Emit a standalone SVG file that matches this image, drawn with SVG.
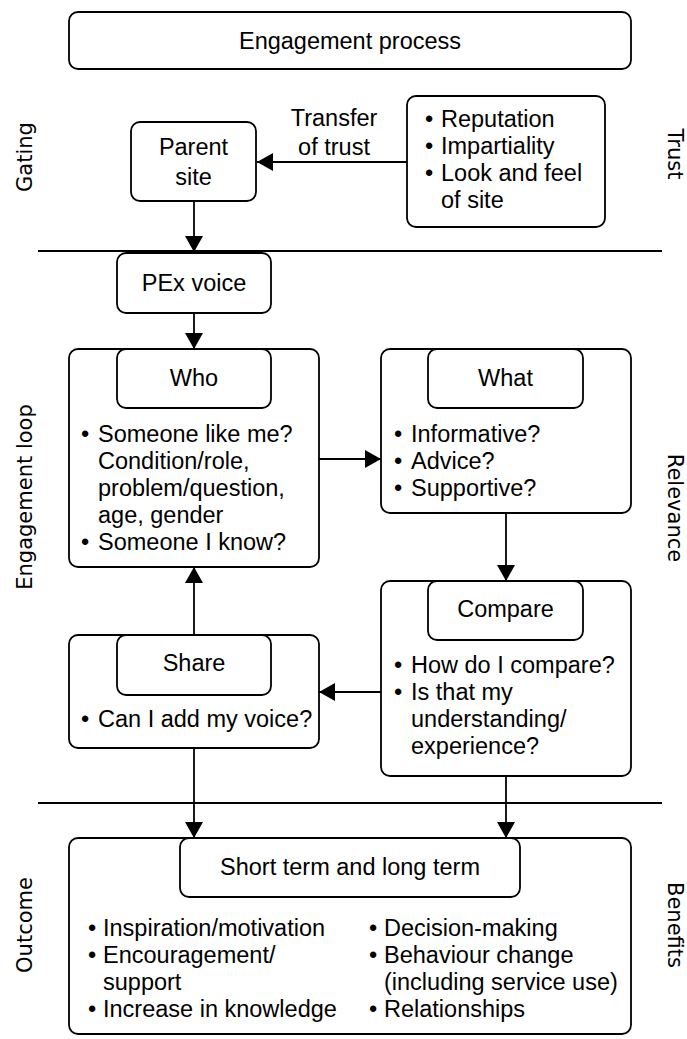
<svg xmlns="http://www.w3.org/2000/svg" width="687" height="1039" viewBox="0 0 687 1039">
  <defs>
    <marker id="arrow" markerUnits="userSpaceOnUse" markerWidth="17" markerHeight="18" refX="16" refY="9" orient="auto">
      <path d="M0,0 L16,9 L0,18 Z" fill="#000"/>
    </marker>
    <style>
      .box { fill: #fff; stroke: #000; stroke-width: 1.8; }
      .conn { fill: none; stroke: #000; stroke-width: 1.8; marker-end: url(#arrow); }
      .rule { stroke: #000; stroke-width: 1.8; }
      .t { font-family: "Liberation Sans", Arial, sans-serif; font-size: 23.5px; fill: #000; }
      .c { text-anchor: middle; }
      .side { font-family: "DejaVu Sans", Verdana, sans-serif; font-size: 21px; fill: #000; text-anchor: middle; }
    </style>
  </defs>

  <rect width="687" height="1039" fill="#fff"/>

  <!-- section dividers -->
  <line class="rule" x1="38" y1="251" x2="662" y2="251"/>
  <line class="rule" x1="38" y1="803" x2="662" y2="803"/>

  <!-- side labels -->
  <text class="side" transform="translate(32,157) rotate(-90)">Gating</text>
  <text class="side" transform="translate(668,154) rotate(90)">Trust</text>
  <text class="side" transform="translate(32,497) rotate(-90)">Engagement loop</text>
  <text class="side" transform="translate(668,508) rotate(90)">Relevance</text>
  <text class="side" transform="translate(32,925) rotate(-90)">Outcome</text>
  <text class="side" transform="translate(668,925) rotate(90)">Benefits</text>

  <!-- connectors -->
  <g id="connectors">
    <line class="conn" x1="407" y1="162" x2="257" y2="162"/>
    <text class="t c" x="334" y="126">Transfer</text>
    <text class="t c" x="334" y="155">of trust</text>
    <line class="conn" x1="194" y1="201" x2="194" y2="252"/>
    <line class="conn" x1="194" y1="313" x2="194" y2="349"/>
    <line class="conn" x1="319" y1="459" x2="381" y2="459"/>
    <line class="conn" x1="506" y1="513" x2="506" y2="581"/>
    <line class="conn" x1="381" y1="692" x2="319" y2="692"/>
    <line class="conn" x1="194" y1="635" x2="194" y2="567"/>
    <line class="conn" x1="194" y1="748" x2="194" y2="838"/>
    <line class="conn" x1="506" y1="776" x2="506" y2="838"/>
  </g>

  <!-- title -->
  <g id="engagement-process">
    <rect class="box" x="69" y="12" width="562" height="57" rx="9"/>
    <text class="t c" x="350" y="49">Engagement process</text>
  </g>

  <g id="parent-site">
    <rect class="box" x="131" y="122" width="125" height="79" rx="9"/>
    <text class="t c" x="193.5" y="155">Parent</text>
    <text class="t c" x="193.5" y="185">site</text>
  </g>

  <g id="trust-factors">
    <rect class="box" x="407" y="96" width="198" height="131" rx="9"/>
    <text class="t"><tspan x="425" y="127">•</tspan><tspan x="441" y="127">Reputation</tspan></text>
    <text class="t"><tspan x="425" y="154">•</tspan><tspan x="441" y="154">Impartiality</tspan></text>
    <text class="t"><tspan x="425" y="181">•</tspan><tspan x="441" y="181">Look and feel</tspan></text>
    <text class="t" x="441" y="208">of site</text>
  </g>

  <g id="pex-voice">
    <rect class="box" x="117" y="253" width="154" height="60" rx="9"/>
    <text class="t c" x="194" y="291">PEx voice</text>
  </g>

  <g id="who">
    <rect class="box" x="69" y="349" width="250" height="218" rx="9"/>
    <rect class="box" x="117" y="349" width="154" height="59" rx="9"/>
    <text class="t c" x="194" y="386">Who</text>
    <text class="t"><tspan x="81" y="442">•</tspan><tspan x="98" y="442">Someone like me?</tspan></text>
    <text class="t" x="98" y="469">Condition/role,</text>
    <text class="t" x="98" y="496">problem/question,</text>
    <text class="t" x="98" y="523">age, gender</text>
    <text class="t"><tspan x="81" y="550">•</tspan><tspan x="98" y="550">Someone I know?</tspan></text>
  </g>

  <g id="what">
    <rect class="box" x="381" y="349" width="250" height="164" rx="9"/>
    <rect class="box" x="428" y="349" width="155" height="59" rx="9"/>
    <text class="t c" x="505.5" y="386">What</text>
    <text class="t"><tspan x="394" y="442">•</tspan><tspan x="411" y="442">Informative?</tspan></text>
    <text class="t"><tspan x="394" y="469">•</tspan><tspan x="411" y="469">Advice?</tspan></text>
    <text class="t"><tspan x="394" y="496">•</tspan><tspan x="411" y="496">Supportive?</tspan></text>
  </g>

  <g id="compare">
    <rect class="box" x="381" y="581" width="250" height="195" rx="9"/>
    <rect class="box" x="428" y="581" width="155" height="59" rx="9"/>
    <text class="t c" x="505.5" y="617">Compare</text>
    <text class="t"><tspan x="394" y="673">•</tspan><tspan x="411" y="673">How do I compare?</tspan></text>
    <text class="t"><tspan x="394" y="700">•</tspan><tspan x="411" y="700">Is that my</tspan></text>
    <text class="t" x="411" y="727">understanding/</text>
    <text class="t" x="411" y="754">experience?</text>
  </g>

  <g id="share">
    <rect class="box" x="69" y="635" width="250" height="113" rx="9"/>
    <rect class="box" x="117" y="635" width="154" height="60" rx="9"/>
    <text class="t c" x="194" y="671">Share</text>
    <text class="t"><tspan x="81" y="727">•</tspan><tspan x="98" y="727">Can I add my voice?</tspan></text>
  </g>

  <g id="outcome">
    <rect class="box" x="69" y="838" width="562" height="196" rx="9"/>
    <rect class="box" x="180" y="838" width="340" height="59" rx="9"/>
    <text class="t c" x="350" y="875">Short term and long term</text>
    <text class="t"><tspan x="88" y="936">•</tspan><tspan x="103" y="936">Inspiration/motivation</tspan></text>
    <text class="t"><tspan x="88" y="963">•</tspan><tspan x="103" y="963">Encouragement/</tspan></text>
    <text class="t" x="103" y="990">support</text>
    <text class="t"><tspan x="88" y="1017">•</tspan><tspan x="103" y="1017">Increase in knowledge</tspan></text>
    <text class="t"><tspan x="369" y="936">•</tspan><tspan x="384" y="936">Decision-making</tspan></text>
    <text class="t"><tspan x="369" y="963">•</tspan><tspan x="384" y="963">Behaviour change</tspan></text>
    <text class="t" x="384" y="990">(including service use)</text>
    <text class="t"><tspan x="369" y="1017">•</tspan><tspan x="384" y="1017">Relationships</tspan></text>
  </g>
</svg>
